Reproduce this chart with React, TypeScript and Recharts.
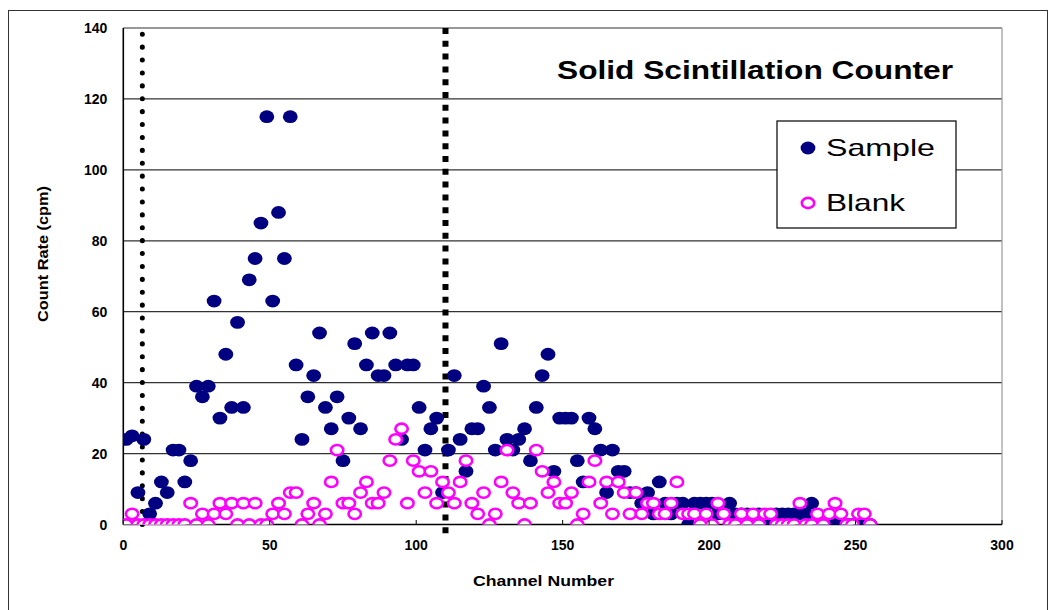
import React from "react";
import {
  ScatterChart,
  Scatter,
  XAxis,
  YAxis,
  CartesianGrid,
  ReferenceLine,
} from "recharts";

// Channel numbers (x)
const channels = [
  1, 3, 5, 7, 9, 11, 13, 15, 17, 19, 21, 23, 25, 27, 29, 31, 33, 35, 37, 39,
  41, 43, 45, 47, 49, 51, 53, 55, 57, 59, 61, 63, 65, 67, 69, 71, 73, 75, 77, 79,
  81, 83, 85, 87, 89, 91, 93, 95, 97, 99, 101, 103, 105, 107, 109, 111, 113, 115, 117, 119,
  121, 123, 125, 127, 129, 131, 133, 135, 137, 139, 141, 143, 145, 147, 149, 151, 153, 155, 157, 159,
  161, 163, 165, 167, 169, 171, 173, 175, 177, 179, 181, 183, 185, 187, 189, 191, 193, 195, 197, 199,
  201, 203, 205, 207, 209, 211, 213, 215, 217, 219, 221, 223, 225, 227, 229, 231, 233, 235, 237, 239,
  241, 243, 245, 247, 249, 251, 253, 255,
];

// Sample count rate (cpm)
const sampleCounts = [
  24, 25, 9, 24, 3, 6, 12, 9, 21, 21, 12, 18, 39, 36, 39, 63, 30, 48, 33, 57,
  33, 69, 75, 85, 115, 63, 88, 75, 115, 45, 24, 36, 42, 54, 33, 27, 36, 18, 30, 51,
  27, 45, 54, 42, 42, 54, 45, 24, 45, 45, 33, 21, 27, 30, 9, 21, 42, 24, 15, 27,
  27, 39, 33, 21, 51, 24, 21, 24, 27, 18, 33, 42, 48, 15, 30, 30, 30, 18, 12, 30,
  27, 21, 9, 21, 15, 15, 9, 9, 6, 9, 3, 12, 6, 3, 6, 6, 0, 6, 6, 6,
  6, 3, 3, 6, 3, 3, 3, 0, 3, 0, 0, 3, 3, 3, 3, 3, 3, 6, 0, 0,
  0, 0, 0, 0, 0, 0, 0, 0,
];

// Blank count rate (cpm)
const blankCounts = [
  0, 3, 0, 0, 0, 0, 0, 0, 0, 0, 0, 6, 0, 3, 0, 3, 6, 3, 6, 0,
  6, 0, 6, 0, 0, 3, 6, 3, 9, 9, 0, 3, 6, 0, 3, 12, 21, 6, 6, 3,
  9, 12, 6, 6, 9, 18, 24, 27, 6, 18, 15, 9, 15, 6, 12, 9, 6, 12, 18, 6,
  3, 9, 0, 3, 12, 21, 9, 6, 0, 6, 21, 15, 9, 12, 6, 6, 9, 0, 3, 12,
  18, 6, 12, 3, 12, 9, 3, 9, 3, 6, 6, 3, 3, 6, 12, 3, 3, 3, 0, 3,
  0, 6, 3, 0, 0, 3, 0, 3, 0, 3, 3, 0, 0, 0, 0, 6, 0, 0, 3, 0,
  3, 6, 3, 0, 0, 3, 3, 0,
];

const xTicks = [0, 50, 100, 150, 200, 250, 300];
const yTicks = [0, 20, 40, 60, 80, 100, 120, 140];
// Window markers (channel numbers of the dotted vertical lines)
const windowLower = 6.5;
const windowUpper = 110;

const sampleData = channels.map((c, i) => ({ x: c, y: sampleCounts[i] }));
const blankData = channels.map((c, i) => ({ x: c, y: blankCounts[i] }));

const FONT = "'Liberation Sans', Arial, sans-serif";
const NAVY = "#000080";
const MAGENTA = "#FF00FF";

const SampleDot = (props: any) => {
  const { cx, cy } = props;
  if (cx == null || cy == null) return null;
  return <ellipse cx={cx} cy={cy} rx={7.4} ry={6.4} fill={NAVY} />;
};

const BlankDot = (props: any) => {
  const { cx, cy } = props;
  if (cx == null || cy == null) return null;
  return (
    <ellipse
      cx={cx}
      cy={cy}
      rx={6.2}
      ry={5.1}
      fill="#ffffff"
      stroke={MAGENTA}
      strokeWidth={2.6}
    />
  );
};

const YTick = (props: any) => {
  const { x, y, payload } = props;
  return (
    <text
      x={x}
      y={y}
      dy="0.36em"
      textAnchor="end"
      fontFamily={FONT}
      fontWeight="bold"
      fontSize={14}
      fill="#000"
    >
      {payload.value}
    </text>
  );
};

const XTick = (props: any) => {
  const { x, y, payload } = props;
  return (
    <g>
      <line x1={x} x2={x} y1={y - 20.5} y2={y - 25} stroke="#000" strokeWidth={1} />
      <text
        x={x}
        y={y}
        dy="0.36em"
        textAnchor="middle"
        fontFamily={FONT}
        fontWeight="bold"
        fontSize={14}
        fill="#000"
      >
        {payload.value}
      </text>
    </g>
  );
};

const W = 1040;
const H = 602;

export default function App() {
  return (
    <div style={{ position: "relative", width: W, height: H, background: "#fff" }}>
      <ScatterChart
        width={W}
        height={H}
        margin={{ top: 20, right: 46, left: 55.3, bottom: 55.5 }}
      >
        <CartesianGrid
          horizontal={true}
          vertical={false}
          stroke="#333"
          strokeWidth={1.2}
        />
        <XAxis
          type="number"
          dataKey="x"
          domain={[0, 300]}
          ticks={xTicks}
          allowDataOverflow
          height={30}
          tickSize={0}
          tickMargin={20.5}
          tick={<XTick />}
          axisLine={{ stroke: "#000", strokeWidth: 1.6 }}
          tickLine={false}
        />
        <YAxis
          type="number"
          dataKey="y"
          domain={[0, 140]}
          ticks={yTicks}
          allowDataOverflow
          width={60}
          tickSize={0}
          tickMargin={16}
          tick={<YTick />}
          axisLine={{ stroke: "#000", strokeWidth: 1.6 }}
          tickLine={false}
        />
        <ReferenceLine x={300} stroke="#999" strokeWidth={1.2} />
        <Scatter
          name="Sample"
          data={sampleData}
          shape={<SampleDot />}
          isAnimationActive={false}
        />
        <Scatter
          name="Blank"
          data={blankData}
          shape={<BlankDot />}
          isAnimationActive={false}
        />
        <ReferenceLine
          x={windowLower}
          stroke="#000"
          strokeWidth={5}
          strokeDasharray="0.1 12.8"
          strokeLinecap="round"
        />
        <ReferenceLine
          segment={[
            { x: windowUpper, y: 140 },
            { x: windowUpper, y: -4 },
          ]}
          ifOverflow="visible"
          stroke="#000"
          strokeWidth={6}
          strokeDasharray="6 6.8"
        />
      </ScatterChart>
      <svg
        width={W}
        height={H}
        style={{ position: "absolute", left: 0, top: 0, pointerEvents: "none" }}
      >
        <rect x={0.5} y={2.5} width={1039} height={700} fill="none" stroke="#333" strokeWidth={1} />
        <text
          x={549}
          y={71}
          fontFamily={FONT}
          fontWeight="bold"
          fontSize={26}
          textLength={396}
          lengthAdjust="spacingAndGlyphs"
          fill="#000"
        >
          Solid Scintillation Counter
        </text>
        <rect x={769} y={113} width={179} height={107} fill="#fff" stroke="#000" strokeWidth={1.2} />
        <ellipse cx={800} cy={140} rx={7.4} ry={6.4} fill={NAVY} />
        <text
          x={818}
          y={148}
          fontFamily={FONT}
          fontSize={24}
          textLength={109}
          lengthAdjust="spacingAndGlyphs"
          fill="#000"
        >
          Sample
        </text>
        <ellipse cx={800} cy={195} rx={6.2} ry={5.1} fill="#fff" stroke={MAGENTA} strokeWidth={2.6} />
        <text
          x={818}
          y={203}
          fontFamily={FONT}
          fontSize={24}
          textLength={79}
          lengthAdjust="spacingAndGlyphs"
          fill="#000"
        >
          Blank
        </text>
        <text
          transform="translate(35,246) rotate(-90)"
          x={0}
          y={0}
          dy="0.36em"
          textAnchor="middle"
          fontFamily={FONT}
          fontWeight="bold"
          fontSize={14}
          textLength={136}
          lengthAdjust="spacingAndGlyphs"
          fill="#000"
        >
          Count Rate (cpm)
        </text>
        <text
          x={535.5}
          y={573}
          dy="0.36em"
          textAnchor="middle"
          fontFamily={FONT}
          fontWeight="bold"
          fontSize={15}
          textLength={141}
          lengthAdjust="spacingAndGlyphs"
          fill="#000"
        >
          Channel Number
        </text>
      </svg>
    </div>
  );
}
